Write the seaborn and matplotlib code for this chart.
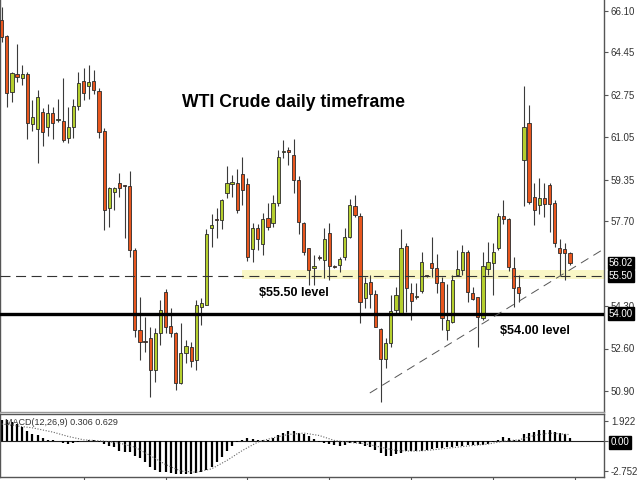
import numpy as np
import pandas as pd
import matplotlib
matplotlib.use("Agg")
import matplotlib.pyplot as plt
import seaborn as sns

sns.set_style("white")
plt.rcParams['font.family'] = ['Liberation Sans', 'DejaVu Sans']

# daily OHLC
opens = [65.74, 65.11, 62.87, 63.57, 63.41, 63.57, 61.57, 61.37, 62.05, 61.45,
         62.01, 61.74, 61.71, 61.01, 61.47, 62.30, 63.30, 63.10, 63.30, 62.91,
         61.31, 58.21, 58.87, 59.21, 59.14, 59.10, 56.54, 53.34, 52.91, 53.01,
         51.74, 53.21, 54.87, 53.50, 53.21, 51.23, 52.43, 52.67, 52.14, 54.27,
         54.34, 57.41, 57.77, 57.74, 58.81, 59.18, 59.21, 59.58, 59.18, 56.57,
         57.41, 56.78, 57.81, 57.61, 58.41, 60.47, 60.54, 60.34, 59.34, 57.63,
         56.61, 55.81, 56.27, 56.14, 57.23, 55.89, 55.94, 56.25, 57.05, 58.30,
         57.90, 54.61, 55.27, 54.77, 53.37, 52.17, 52.81, 54.14, 54.01, 56.70,
         54.81, 54.65, 54.90, 55.52, 56.01, 55.81, 55.27, 53.34, 53.67, 55.54,
         55.74, 56.47, 54.83, 54.65, 53.81, 55.77, 56.03, 56.61, 57.90, 57.77,
         55.81, 55.05, 60.14, 61.63, 58.67, 58.34, 58.61, 59.14, 58.41, 56.61,
         56.57, 56.41]
highs = [66.27, 65.14, 63.67, 64.77, 63.94, 63.67, 62.54, 62.94, 62.21, 62.38,
         62.25, 62.57, 63.41, 62.25, 62.57, 63.67, 63.81, 63.94, 63.74, 63.01,
         61.41, 59.05, 59.05, 59.61, 59.14, 59.71, 56.61, 54.67, 53.87, 53.47,
         53.41, 54.54, 54.97, 54.21, 53.27, 53.63, 52.94, 52.87, 54.54, 54.63,
         57.38, 57.98, 58.21, 58.60, 59.90, 59.54, 59.77, 60.27, 59.41, 57.61,
         57.58, 58.01, 58.41, 58.74, 60.54, 60.94, 60.67, 60.97, 59.50, 57.67,
         56.61, 56.34, 56.34, 57.41, 57.61, 55.94, 56.27, 57.41, 58.60, 58.74,
         58.01, 55.47, 55.54, 54.94, 53.41, 53.01, 54.74, 55.07, 57.37, 56.81,
         55.21, 55.21, 56.47, 55.56, 57.05, 56.38, 55.47, 55.20, 55.54, 56.54,
         56.74, 56.54, 55.07, 54.67, 56.47, 56.87, 56.81, 58.01, 58.54, 57.81,
         56.27, 55.54, 63.10, 62.34, 59.23, 59.43, 59.21, 59.23, 58.54, 57.00,
         56.81, 56.47]
lows = [64.87, 62.27, 62.47, 63.27, 63.14, 60.97, 61.31, 60.03, 60.70, 61.10,
        60.97, 61.67, 60.87, 60.83, 61.01, 62.14, 62.54, 62.58, 62.77, 61.01,
        57.34, 57.47, 58.14, 58.67, 57.01, 56.27, 53.07, 52.14, 52.47, 50.67,
        51.27, 52.74, 53.21, 53.07, 50.94, 51.17, 52.01, 51.87, 51.74, 53.54,
        54.34, 56.67, 57.01, 57.37, 58.61, 58.67, 58.04, 58.34, 56.11, 56.07,
        56.54, 56.34, 57.34, 57.47, 58.30, 60.21, 59.94, 58.81, 57.20, 56.34,
        55.14, 55.14, 56.14, 55.41, 55.34, 55.81, 55.67, 56.14, 57.01, 57.87,
        53.61, 54.21, 54.21, 53.47, 50.47, 51.81, 52.67, 54.01, 53.94, 54.07,
        53.74, 54.57, 54.81, 55.46, 55.47, 54.81, 53.34, 52.94, 53.61, 55.54,
        55.54, 54.47, 54.54, 52.67, 53.74, 55.54, 54.74, 56.54, 57.60, 55.70,
        54.27, 54.47, 58.30, 58.40, 57.54, 58.00, 57.87, 57.27, 56.67, 55.54,
        55.34, 55.94]
closes = [65.07, 62.81, 63.61, 63.47, 63.57, 61.61, 61.87, 62.65, 61.25, 62.01,
          61.61, 61.78, 60.94, 61.47, 62.30, 63.21, 62.81, 63.25, 62.94, 61.27,
          58.14, 59.01, 59.01, 59.01, 59.10, 56.54, 53.34, 52.87, 52.87, 51.74,
          53.23, 54.14, 53.47, 53.23, 51.21, 52.43, 52.71, 52.10, 54.34, 54.41,
          57.18, 57.54, 57.74, 58.54, 59.21, 59.27, 58.14, 58.94, 56.27, 57.41,
          56.97, 57.77, 57.47, 58.41, 60.27, 60.51, 60.47, 59.34, 57.67, 56.47,
          55.74, 55.90, 56.21, 56.97, 55.90, 55.87, 56.17, 57.05, 58.34, 57.94,
          54.47, 55.21, 54.77, 53.47, 52.17, 52.83, 54.10, 54.74, 56.63, 55.01,
          54.51, 54.70, 56.05, 55.50, 55.81, 55.21, 53.81, 53.74, 55.34, 55.78,
          56.47, 54.87, 54.57, 53.85, 55.90, 56.07, 56.47, 57.90, 57.77, 55.87,
          55.01, 54.83, 61.47, 58.47, 58.14, 58.61, 58.38, 58.38, 56.81, 56.41,
          56.41, 56.03]

# MACD(12,26,9) main line, drawn as histogram
macd_main = [1.99, 1.93, 1.77, 1.62, 1.32, 0.95, 0.70, 0.61, 0.34, 0.18,
             0.09, 0.03, -0.15, -0.21, -0.15, -0.06, 0.02, 0.09, 0.09, -0.02,
             -0.21, -0.46, -0.52, -0.83, -0.98, -0.98, -1.29, -1.50, -1.90, -2.36,
             -2.66, -2.82, -2.82, -2.91, -2.97, -3.03, -3.03, -2.97, -2.91, -2.82,
             -2.66, -2.36, -1.90, -1.44, -0.83, -0.37, -0.06, 0.15, 0.34, 0.24,
             0.15, 0.15, 0.18, 0.31, 0.55, 0.77, 0.95, 0.95, 0.77, 0.70,
             0.46, 0.24, -0.09, -0.15, -0.21, -0.28, -0.37, -0.31, -0.15, -0.12,
             -0.21, -0.37, -0.52, -0.77, -1.07, -1.29, -1.29, -1.19, -1.07, -0.89,
             -0.83, -0.83, -0.83, -0.77, -0.67, -0.61, -0.58, -0.52, -0.52, -0.46,
             -0.37, -0.31, -0.31, -0.31, -0.31, -0.21, -0.06, 0.15, 0.40, 0.34,
             0.15, 0.09, 0.70, 0.77, 0.86, 1.01, 1.01, 1.01, 0.86, 0.80,
             0.70, 0.31]
signal_bar = [0, 6, 10, 13, 16, 20, 23, 26, 29, 32, 35, 38, 41, 44, 47, 50, 53, 56,
              59, 62, 65, 68, 71, 74, 77, 80, 83, 86, 89, 92, 95, 98, 101, 104, 107, 111]
signal_vals = [1.60, 1.25, 0.86, 0.46, 0.15, 0.03, -0.15, -0.52, -1.29, -2.11, -2.72,
               -2.82, -2.51, -1.74, -0.83, -0.06, 0.34, 0.64, 0.77, 0.55, 0.09, -0.09,
               -0.21, -0.52, -0.83, -0.89, -0.83, -0.67, -0.52, -0.37, -0.24, 0.03,
               0.15, 0.55, 0.77, 0.63]

price_ticks = [66.10, 64.45, 62.75, 61.05, 59.35, 57.70, 54.30, 52.60, 50.90]
macd_ticks = [1.922, 0.0, -2.752]
support = 54.00
resistance = 55.50
last_price = 56.02
band_start = 46.9
trend_x = [71.9, 117.6]
trend_y = [50.82, 56.58]

green = '#B5CF2E'
red = '#E8561E'
edge = '#2b2b2b'

bars = pd.DataFrame({'open': opens, 'high': highs, 'low': lows, 'close': closes})
bars['idx'] = np.arange(len(bars))
up = bars['close'] >= bars['open']
body_low = np.minimum(bars['open'], bars['close'])
body_h = np.maximum((bars['close'] - bars['open']).abs(), 0.05)

fig = plt.figure(figsize=(6.4, 4.8), dpi=100)
fig.patch.set_facecolor('white')
ax = fig.add_axes([0, 68 / 480, 604 / 640, 412 / 480])
ax2 = fig.add_axes([0, 3 / 480, 604 / 640, 63 / 480])

xmin, xmax = -0.33, 117.64

# yellow zone around 55.50
ax.fill_between([band_start, xmax], 55.40, 55.74, color='#FAF7C6', zorder=1, lw=0)

ax.vlines(bars['idx'], bars['low'], bars['high'], color='#3a3a3a', lw=0.8, zorder=2)
ax.bar(bars['idx'], body_h, bottom=body_low, width=0.62,
       color=np.where(up, green, red), edgecolor=edge, linewidth=0.6, zorder=3)

ax.axhline(resistance, color='#333333', lw=0.8, ls=(0, (9, 5)), zorder=4)
ax.axhline(support, color='black', lw=2.4, zorder=4)
sns.lineplot(x=trend_x, y=trend_y, ax=ax, color='#555555', lw=0.7,
             linestyle=(0, (9, 6)), zorder=4)

ax.text(57.0, 62.46, 'WTI Crude daily timeframe', fontsize=12.7, fontweight='bold',
        ha='center', va='center', color='black')
ax.text(57.1, 54.82, '$55.50 level', fontsize=9, fontweight='bold',
        ha='center', va='center', color='black')
ax.text(104.1, 53.32, '$54.00 level', fontsize=9, fontweight='bold',
        ha='center', va='center', color='black')

ax.set_xlim(xmin, xmax)
ax.set_ylim(50.06, 66.54)
ax.set_xticks([])
ax.set_yticks(price_ticks)
ax.set_yticklabels([f'{t:.2f}' for t in price_ticks])
ax.yaxis.tick_right()
ax.tick_params(axis='y', right=True, left=False, labelright=True, labelleft=False,
               length=3, width=0.8, color='#555555', pad=2, labelsize=7,
               labelcolor='#333333')

for level in [last_price, resistance, support]:
    ax.text(1.008, level, f'{level:.2f}', transform=ax.get_yaxis_transform(),
            fontsize=7, color='white', va='center', ha='left', zorder=6,
            bbox=dict(boxstyle='square,pad=0.12', fc='black', ec='black'))

for name, sp in ax.spines.items():
    sp.set_color('#555555')
    sp.set_linewidth(1.0)
ax.spines['top'].set_visible(False)
ax.spines['bottom'].set_color('#999999')

# MACD panel
ax2.vlines(bars['idx'], 0, macd_main, color='black', lw=1.6, zorder=2)
ax2.axhline(0, color='#222222', lw=0.8, zorder=1)
sns.lineplot(x=signal_bar, y=signal_vals, ax=ax2, color='#666666', lw=0.8,
             linestyle=(0, (1, 1.5)), zorder=3)
ax2.text(0.008, 0.86, 'MACD(12,26,9) 0.306 0.629', transform=ax2.transAxes,
         fontsize=6.5, color='#333333', va='center', ha='left')

ax2.set_xlim(xmin, xmax)
ax2.set_ylim(-3.26, 2.52)
ax2.set_xticks(np.arange(16, 118, 16))
ax2.set_xticklabels([])
ax2.tick_params(axis='x', bottom=True, length=3, width=0.8, color='#555555')
ax2.set_yticks(macd_ticks)
ax2.set_yticklabels(['1.922', '0.00', '-2.752'])
ax2.yaxis.tick_right()
ax2.tick_params(axis='y', right=True, left=False, labelright=True, labelleft=False,
                length=3, width=0.8, color='#555555', pad=2, labelsize=7,
                labelcolor='#333333')
ax2.get_yticklabels()[1].set_bbox(dict(boxstyle='square,pad=0.15', fc='black', ec='black'))
ax2.get_yticklabels()[1].set_color('white')
for name, sp in ax2.spines.items():
    sp.set_color('#555555')
    sp.set_linewidth(1.0)

fig.savefig('out.png', dpi=100, facecolor='white')
